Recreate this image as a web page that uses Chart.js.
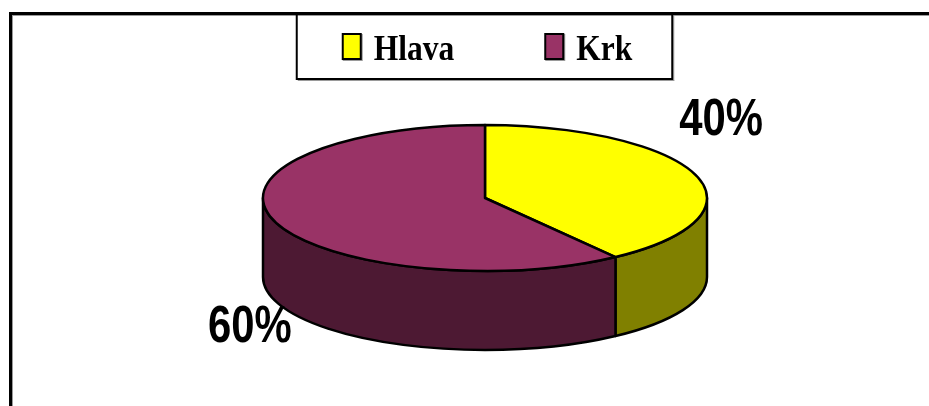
<!DOCTYPE html>
<html>
<head>
<meta charset="utf-8">
<style>
  html, body { margin: 0; padding: 0; background: #fff; }
  #wrap { width: 929px; height: 406px; position: relative; }
</style>
<script src="https://cdn.jsdelivr.net/npm/chart.js@4/dist/chart.umd.min.js"></script>
</head>
<body>
<div id="wrap"><canvas id="c" width="929" height="406"></canvas></div>
<script>
// Data
const categories = ['Hlava', 'Krk'];
const shares = [40, 60];

// Colours: top faces and the darker side walls of each slice
const topColors = ['#ffff00', '#993366'];
const sideColors = ['#808000', '#4d1933'];

// Draws the pie as a tilted disc: side walls first, then the top faces,
// all taken from the arc elements computed by the pie controller.
const pie3d = {
  id: 'pie3d',
  beforeDraw(chart, args, opts) {
    const ctx = chart.ctx;
    ctx.save();
    // outer frame (top and left edges with a soft shadow)
    ctx.fillStyle = '#000';
    ctx.fillRect(9, 12, 920, 3);
    ctx.fillRect(9, 12, 3, 394);
    ctx.fillStyle = '#9a9a9a';
    ctx.fillRect(12, 15, 917, 1);
    ctx.fillRect(12, 15, 1, 391);

    // legend
    const arc0 = chart.getDatasetMeta(0).data[0];
    ctx.font = opts.legendFont;
    const sx = opts.legendScaleX;
    const sqW = 20, sqH = 27, gap = 12, between = 90;
    const widths = categories.map(t => ctx.measureText(t).width * sx);
    const total = widths.reduce((s, w) => s + sqW + gap + w, 0) + between * (categories.length - 1);
    let x = arc0.x + 2 - total / 2;
    const boxL = x - 46, boxR = x + total + 40;
    // legend frame
    ctx.fillStyle = '#9a9a9a';
    ctx.fillRect(boxL + 2, 80, boxR - boxL, 1);
    ctx.fillRect(boxR + 1, 15, 1, 66);
    ctx.strokeStyle = '#000';
    ctx.lineWidth = 2;
    ctx.strokeRect(boxL + 1, 13, boxR - boxL - 1, 66);
    // legend entries
    ctx.textBaseline = 'alphabetic';
    ctx.textAlign = 'left';
    categories.forEach((t, i) => {
      ctx.fillStyle = '#9a9a9a';
      ctx.fillRect(x + 1, 34, sqW, sqH);
      ctx.fillStyle = '#000';
      ctx.fillRect(x, 33, sqW, sqH);
      ctx.fillStyle = topColors[i];
      ctx.fillRect(x + 2, 35, sqW - 4, sqH - 4);
      ctx.fillStyle = '#000';
      ctx.save();
      ctx.translate(x + sqW + gap, 60);
      ctx.scale(sx, 1);
      ctx.fillText(t, 0, 0);
      ctx.restore();
      x += sqW + gap + widths[i] + between;
    });
    ctx.restore();
  },
  beforeDatasetsDraw(chart, args, opts) {
    const ctx = chart.ctx;
    const arcs = chart.getDatasetMeta(0).data;
    const tilt = opts.tilt, depth = opts.depth;
    const parts = (s, e) => {
      const out = [];
      for (let k = -2; k <= 2; k++) {
        const lo = Math.max(s, 2 * Math.PI * k);
        const hi = Math.min(e, Math.PI + 2 * Math.PI * k);
        if (hi > lo) out.push([lo, hi]);
      }
      return out;
    };
    ctx.save();
    ctx.lineWidth = 2.5;
    ctx.strokeStyle = '#000';
    ctx.lineJoin = 'round';
    // front side walls
    arcs.forEach((arc, i) => {
      const p = arc.getProps(['x', 'y', 'startAngle', 'endAngle', 'outerRadius'], true);
      const rx = p.outerRadius, ry = rx * tilt;
      parts(p.startAngle, p.endAngle).forEach(([a, b]) => {
        ctx.beginPath();
        ctx.ellipse(p.x, p.y, rx, ry, 0, a, b, false);
        ctx.lineTo(p.x + rx * Math.cos(b), p.y + ry * Math.sin(b) + depth);
        ctx.ellipse(p.x, p.y + depth, rx, ry, 0, b, a, true);
        ctx.closePath();
        ctx.fillStyle = sideColors[i];
        ctx.fill();
        ctx.stroke();
      });
    });
    // top faces
    arcs.forEach((arc, i) => {
      const p = arc.getProps(['x', 'y', 'startAngle', 'endAngle', 'outerRadius'], true);
      const rx = p.outerRadius, ry = rx * tilt;
      ctx.beginPath();
      ctx.moveTo(p.x, p.y);
      ctx.ellipse(p.x, p.y, rx, ry, 0, p.startAngle, p.endAngle, false);
      ctx.closePath();
      ctx.fillStyle = topColors[i];
      ctx.fill();
      ctx.stroke();
    });
    ctx.restore();
    return false;
  },
  afterDraw(chart, args, opts) {
    const ctx = chart.ctx;
    const arcs = chart.getDatasetMeta(0).data;
    const sum = shares.reduce((s, v) => s + v, 0);
    ctx.save();
    ctx.font = opts.valueFont;
    ctx.fillStyle = '#000';
    ctx.textAlign = 'center';
    ctx.textBaseline = 'alphabetic';
    arcs.forEach((arc, i) => {
      const p = arc.getProps(['x', 'y', 'startAngle', 'endAngle', 'outerRadius'], true);
      const mid = (p.startAngle + p.endAngle) / 2;
      const rx = p.outerRadius, ry = rx * opts.tilt;
      const off = opts.labelOffsets[i];
      const tx = p.x + rx * Math.cos(mid) + off[0];
      const ty = p.y + ry * Math.sin(mid) + off[1];
      ctx.save();
      ctx.translate(tx, ty);
      ctx.scale(0.82, 1);
      ctx.fillText(Math.round(shares[i] / sum * 100) + '%', 0, 0);
      ctx.restore();
    });
    ctx.restore();
  }
};

new Chart(document.getElementById('c'), {
  type: 'pie',
  data: {
    labels: categories,
    datasets: [{
      data: shares,
      backgroundColor: topColors,
      borderColor: '#000',
      borderWidth: 2,
      radius: 222
    }]
  },
  options: {
    responsive: false,
    animation: false,
    layout: { padding: { left: 41, right: 0, top: 0, bottom: 10 } },
    plugins: {
      legend: { display: false },
      tooltip: { enabled: false },
      pie3d: {
        tilt: 73 / 222,
        depth: 79,
        legendFont: 'bold 35px "Liberation Serif", "Times New Roman", serif',
        legendScaleX: 0.9,
        valueFont: 'bold 51px "Liberation Sans", Arial, sans-serif',
        labelOffsets: [[25, -40], [-24, 121]]
      }
    }
  },
  plugins: [pie3d]
});
</script>
</body>
</html>
